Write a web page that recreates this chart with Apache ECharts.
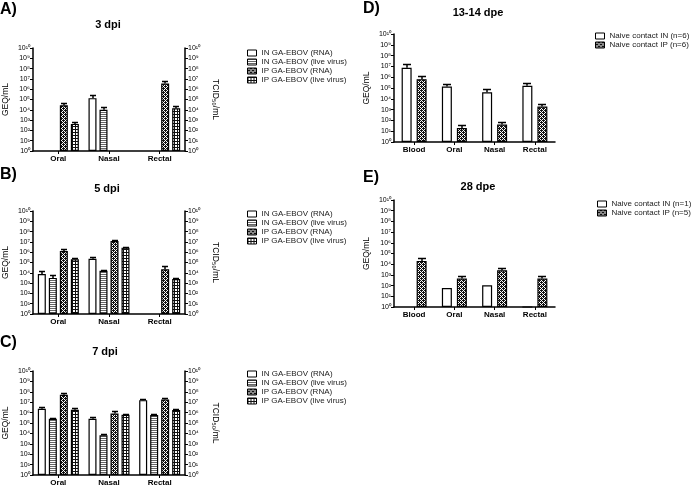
<!DOCTYPE html>
<html>
<head>
<meta charset="utf-8">
<script src="https://cdn.jsdelivr.net/npm/echarts@6/dist/echarts.min.js"></script>
<style>
  html, body { margin: 0; background: #fff; }
  #main { width: 696px; height: 487px; }
</style>
</head>
<body>
<div id="main"></div>
<script>
// categories
var dpiCats = ['Oral', 'Nasal', 'Rectal']
var dpeCats = ['Blood', 'Oral', 'Nasal', 'Rectal']
var dpiNames = ['IN GA-EBOV (RNA)', 'IN GA-EBOV (live virus)', 'IP GA-EBOV (RNA)', 'IP GA-EBOV (live virus)']

// A) 3 dpi  (mean, mean + error)
var a_inRna = [null, 135000, null]
var a_inRnaErr = [null, 245000, null]
var a_inLive = [null, 10000, null]
var a_inLiveErr = [null, 18000, null]
var a_ipRna = [28000, null, 3600000]
var a_ipRnaErr = [48000, null, 6200000]
var a_ipLive = [430, null, 14000]
var a_ipLiveErr = [660, null, 24000]

// B) 5 dpi
var b_inRna = [7600, 234000, null]
var b_inRnaErr = [14800, 316000, null]
var b_inLive = [3200, 15800, null]
var b_inLiveErr = [5600, 20000, null]
var b_ipRna = [1320000, 12300000, 21900]
var b_ipRnaErr = [1900000, 15800000, 45700]
var b_ipLive = [204000, 2750000, 2500]
var b_ipLiveErr = [275000, 3470000, 3400]

// C) 7 dpi
var c_inRna = [2340000, 251000, 15800000]
var c_inRnaErr = [3390000, 363000, 21400000]
var c_inLive = [251000, 6800, 575000]
var c_inLiveErr = [316000, 8300, 708000]
var c_ipRna = [52500000, 832000, 18600000]
var c_ipRnaErr = [70800000, 1380000, 26900000]
var c_ipLive = [1860000, 617000, 1740000]
var c_ipLiveErr = [2510000, 759000, 2340000]

// D) 13-14 dpe
var d_in = [7400000, 138000, 40700, 158000]
var d_inErr = [15100000, 214000, 83000, 263000]
var d_ip = [661000, 20, 41, 1900]
var d_ipErr = [1170000, 35, 78, 3400]

// E) 28 dpe
var e_in = [null, 60, 107, 1]
var e_inErr = [null, null, null, null]
var e_ip = [20400, 457, 2750, 457]
var e_ipErr = [36300, 794, 4270, 871]

var FONT = 'Liberation Sans, Arial, sans-serif'
var SUP = ['\u2070', '\u00b9', '\u00b2', '\u00b3', '\u2074', '\u2075', '\u2076', '\u2077', '\u2078', '\u2079']

function powLabel (v) {
  var e = Math.round(Math.log(v) / Math.LN10)
  return '10' + String(e).split('').map(function (d) { return SUP[+d] }).join('')
}

// fill patterns for the bars
function makePattern (kind) {
  var cv = document.createElement('canvas')
  var ctx = cv.getContext('2d')
  if (kind === 'hlines') {
    cv.width = 4; cv.height = 2
    ctx.fillStyle = '#fff'; ctx.fillRect(0, 0, 4, 2)
    ctx.fillStyle = '#666'; ctx.fillRect(0, 0, 4, 1)
  } else if (kind === 'cross') {
    cv.width = 4; cv.height = 4
    ctx.fillStyle = '#111'; ctx.fillRect(0, 0, 4, 4)
    ctx.fillStyle = '#fff'
    ctx.fillRect(1, 0, 1, 1)
    ctx.fillRect(3, 2, 1, 1)
    ctx.fillRect(0, 1, 1, 1)
    ctx.fillRect(2, 3, 1, 1)
    ctx.fillRect(2, 1, 1, 1)
    ctx.fillRect(0, 3, 1, 1)
  } else if (kind === 'grid') {
    cv.width = 3; cv.height = 3
    ctx.fillStyle = '#fff'; ctx.fillRect(0, 0, 3, 3)
    ctx.fillStyle = '#111'
    ctx.fillRect(0, 0, 3, 1)
    ctx.fillRect(0, 0, 1, 3)
  }
  return { image: cv, repeat: 'repeat' }
}

var fills = {
  plain: '#fff',
  hlines: makePattern('hlines'),
  cross: makePattern('cross'),
  grid: makePattern('grid')
}

var panels = [
  { letter: 'A)', title: '3 dpi', cats: dpiCats, box: [30, 48, 155, 103], right: true, barW: 8, gap: 3,
    titleX: 108, titleY: 25, letterX: 0, letterY: 10, legend: [242, 44],
    series: [
      { name: dpiNames[0], data: a_inRna, err: a_inRnaErr, fill: 'plain' },
      { name: dpiNames[1], data: a_inLive, err: a_inLiveErr, fill: 'hlines' },
      { name: dpiNames[2], data: a_ipRna, err: a_ipRnaErr, fill: 'cross' },
      { name: dpiNames[3], data: a_ipLive, err: a_ipLiveErr, fill: 'grid' }
    ] },
  { letter: 'B)', title: '5 dpi', cats: dpiCats, box: [30, 211, 155, 103], right: true, barW: 8, gap: 3,
    titleX: 107, titleY: 189, letterX: 0, letterY: 175, legend: [242, 205],
    series: [
      { name: dpiNames[0], data: b_inRna, err: b_inRnaErr, fill: 'plain' },
      { name: dpiNames[1], data: b_inLive, err: b_inLiveErr, fill: 'hlines' },
      { name: dpiNames[2], data: b_ipRna, err: b_ipRnaErr, fill: 'cross' },
      { name: dpiNames[3], data: b_ipLive, err: b_ipLiveErr, fill: 'grid' }
    ] },
  { letter: 'C)', title: '7 dpi', cats: dpiCats, box: [30, 371, 155, 104], right: true, barW: 8, gap: 3,
    titleX: 105, titleY: 352, letterX: 0, letterY: 343, legend: [242, 365],
    series: [
      { name: dpiNames[0], data: c_inRna, err: c_inRnaErr, fill: 'plain' },
      { name: dpiNames[1], data: c_inLive, err: c_inLiveErr, fill: 'hlines' },
      { name: dpiNames[2], data: c_ipRna, err: c_ipRnaErr, fill: 'cross' },
      { name: dpiNames[3], data: c_ipLive, err: c_ipLiveErr, fill: 'grid' }
    ] },
  { letter: 'D)', title: '13-14 dpe', cats: dpeCats, box: [394, 34, 161, 108], right: false, barW: 10, gap: 5,
    titleX: 478, titleY: 13, letterX: 363, letterY: 9, legend: [590, 27],
    series: [
      { name: 'Naive contact IN (n=6)', data: d_in, err: d_inErr, fill: 'plain' },
      { name: 'Naive contact IP (n=6)', data: d_ip, err: d_ipErr, fill: 'cross' }
    ] },
  { letter: 'E)', title: '28 dpe', cats: dpeCats, box: [394, 200, 161, 107], right: false, barW: 10, gap: 5,
    titleX: 478, titleY: 187, letterX: 363, letterY: 178, legend: [592, 195],
    series: [
      { name: 'Naive contact IN (n=1)', data: e_in, err: e_inErr, fill: 'plain' },
      { name: 'Naive contact IP (n=5)', data: e_ip, err: e_ipErr, fill: 'cross' }
    ] }
]

function yAxisFor (gridIndex, side, name) {
  return {
    type: 'log',
    logBase: 10,
    min: 1,
    max: 1e10,
    interval: 1,
    gridIndex: gridIndex,
    position: side,
    name: name,
    nameLocation: 'middle',
    nameGap: side === 'left' ? 23 : 26,
    nameRotate: side === 'left' ? 90 : -90,
    nameTextStyle: { fontFamily: FONT, fontSize: 8.5, color: '#000' },
    axisLine: { show: true, lineStyle: { color: '#000', width: 1.5 } },
    axisTick: { show: true, length: 3, lineStyle: { color: '#000', width: 1 } },
    axisLabel: { fontFamily: FONT, fontSize: 7, color: '#000', margin: 3, formatter: powLabel },
    splitLine: { show: false }
  }
}

var option = {
  animation: false,
  backgroundColor: '#fff',
  textStyle: { fontFamily: FONT },
  grid: [],
  xAxis: [],
  yAxis: [],
  legend: [],
  series: [],
  graphic: []
}

panels.forEach(function (p, gi) {
  option.grid.push({ left: p.box[0], top: p.box[1], width: p.box[2], height: p.box[3] })
  option.xAxis.push({
    type: 'category',
    gridIndex: gi,
    data: p.cats,
    axisLine: { show: true, lineStyle: { color: '#000', width: 1.5 } },
    axisTick: { show: true, alignWithLabel: true, length: 3, lineStyle: { color: '#000' } },
    axisLabel: { fontFamily: FONT, fontSize: 8, fontWeight: 'bold', color: '#000', margin: 4 }
  })
  var yLeft = option.yAxis.length
  option.yAxis.push(yAxisFor(gi, 'left', 'GEQ/mL'))
  if (p.right) option.yAxis.push(yAxisFor(gi, 'right', 'TCID\u2085\u2080/mL'))

  var n = p.series.length
  p.series.forEach(function (s, si) {
    option.series.push({
      type: 'bar',
      name: s.name,
      xAxisIndex: gi,
      yAxisIndex: yLeft,
      data: s.data,
      barWidth: p.barW,
      barGap: (p.gap / p.barW * 100) + '%',
      itemStyle: { color: fills[s.fill], borderColor: '#000', borderWidth: 1.2 }
    })
    // error bars (upper only)
    var errRows = []
    s.data.forEach(function (v, i) {
      if (v != null && s.err[i] != null) errRows.push([i, v, s.err[i]])
    })
    var offset = (si - (n - 1) / 2) * (p.barW + p.gap)
    var cap = p.barW / 2 - 1
    option.series.push({
      type: 'custom',
      xAxisIndex: gi,
      yAxisIndex: yLeft,
      data: errRows,
      z: 5,
      silent: true,
      encode: { x: 0, y: [1, 2] },
      renderItem: function (params, api) {
        var base = api.coord([api.value(0), api.value(1)])
        var top = api.coord([api.value(0), api.value(2)])
        var x = Math.round(base[0] + offset)
        var yt = Math.round(top[1]) + 0.5
        return {
          type: 'group',
          children: [
            { type: 'line', shape: { x1: x, y1: base[1], x2: x, y2: yt }, style: { stroke: '#000', lineWidth: 1.5 } },
            { type: 'line', shape: { x1: x - cap, y1: yt, x2: x + cap, y2: yt }, style: { stroke: '#000', lineWidth: 1.5 } }
          ]
        }
      }
    })
  })

  option.legend.push({
    data: p.series.map(function (s) { return s.name }),
    orient: 'vertical',
    left: p.legend[0],
    top: p.legend[1],
    icon: 'rect',
    itemWidth: 9,
    itemHeight: 6,
    itemGap: 1,
    selectedMode: false,
    itemStyle: { borderColor: '#000', borderWidth: 1 },
    textStyle: { fontFamily: FONT, fontSize: 8, color: '#222', lineHeight: 8 }
  })

  option.graphic.push({
    type: 'text', left: p.letterX, top: p.letterY - 8,
    style: { text: p.letter, font: 'bold 16px ' + FONT, fill: '#000' }
  })
  option.graphic.push({
    type: 'text', x: p.titleX, y: p.titleY,
    style: { text: p.title, font: 'bold 11px ' + FONT, fill: '#000', textAlign: 'center', textVerticalAlign: 'middle' }
  })
})

var myChart = echarts.init(document.getElementById('main'))
myChart.setOption(option)
</script>
</body>
</html>
